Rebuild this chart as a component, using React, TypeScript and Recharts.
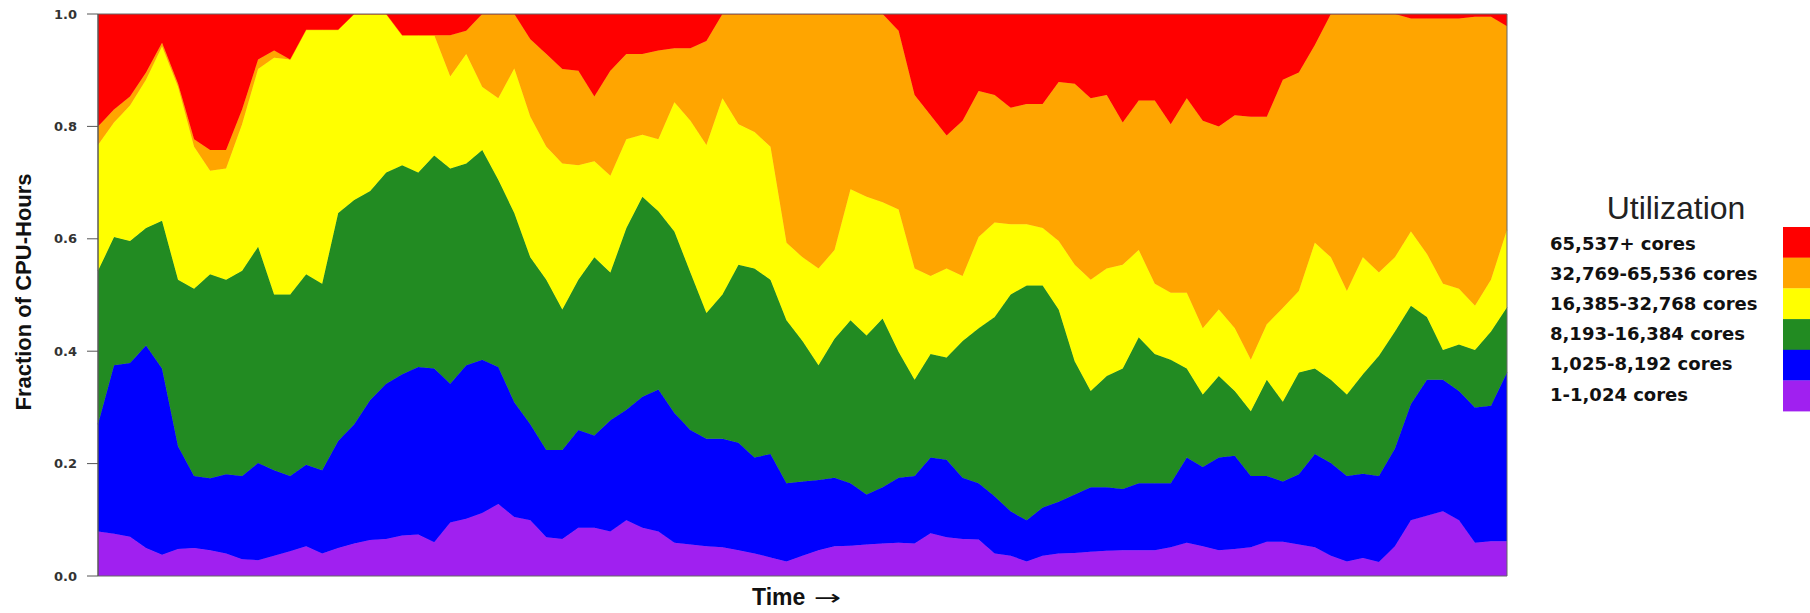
import React from "react";
import { AreaChart, Area, XAxis, YAxis, ReferenceArea } from "recharts";

// Fractions of CPU-hours per job-size class (89 time samples)
const cores1to1024 = [
  0.079, 0.075, 0.070, 0.050, 0.038, 0.048, 0.050, 0.046, 0.040, 0.030,
  0.028, 0.036, 0.044, 0.053, 0.040, 0.050, 0.058, 0.064, 0.066, 0.072,
  0.074, 0.060, 0.095, 0.102, 0.112, 0.128, 0.105, 0.099, 0.069, 0.066,
  0.086, 0.086, 0.079, 0.099, 0.086, 0.079, 0.059, 0.056, 0.053, 0.051,
  0.046, 0.040, 0.033, 0.026, 0.036, 0.046, 0.053, 0.054, 0.056, 0.058,
  0.059, 0.058, 0.076, 0.069, 0.066, 0.065, 0.040, 0.036, 0.026, 0.036,
  0.040, 0.041, 0.043, 0.045, 0.046, 0.046, 0.046, 0.051, 0.059, 0.053,
  0.046, 0.048, 0.051, 0.061, 0.061, 0.056, 0.051, 0.036, 0.026, 0.032,
  0.025, 0.053, 0.099, 0.107, 0.115, 0.099, 0.059, 0.062, 0.062,
];
const cores1025to8192 = [
  0.191, 0.300, 0.309, 0.360, 0.331, 0.183, 0.128, 0.128, 0.141, 0.148,
  0.173, 0.152, 0.134, 0.145, 0.148, 0.190, 0.212, 0.249, 0.276, 0.287,
  0.298, 0.309, 0.247, 0.273, 0.273, 0.244, 0.204, 0.171, 0.155, 0.158,
  0.174, 0.164, 0.198, 0.197, 0.233, 0.253, 0.231, 0.204, 0.191, 0.193,
  0.191, 0.171, 0.184, 0.139, 0.132, 0.125, 0.122, 0.111, 0.089, 0.100,
  0.116, 0.120, 0.135, 0.138, 0.109, 0.100, 0.102, 0.079, 0.073, 0.086,
  0.092, 0.104, 0.115, 0.113, 0.109, 0.119, 0.119, 0.114, 0.152, 0.141,
  0.165, 0.166, 0.127, 0.117, 0.107, 0.125, 0.166, 0.165, 0.152, 0.150,
  0.153, 0.174, 0.207, 0.242, 0.234, 0.230, 0.241, 0.241, 0.300,
];
const cores8193to16384 = [
  0.273, 0.228, 0.217, 0.209, 0.263, 0.296, 0.333, 0.363, 0.346, 0.365,
  0.385, 0.313, 0.323, 0.339, 0.332, 0.406, 0.399, 0.372, 0.376, 0.372,
  0.346, 0.379, 0.383, 0.359, 0.373, 0.333, 0.337, 0.297, 0.303, 0.250,
  0.267, 0.317, 0.263, 0.323, 0.356, 0.317, 0.323, 0.280, 0.224, 0.257,
  0.317, 0.336, 0.310, 0.290, 0.250, 0.204, 0.247, 0.290, 0.283, 0.300,
  0.224, 0.171, 0.184, 0.182, 0.243, 0.276, 0.319, 0.386, 0.418, 0.395,
  0.342, 0.237, 0.171, 0.198, 0.214, 0.260, 0.230, 0.220, 0.158, 0.129,
  0.145, 0.115, 0.115, 0.171, 0.142, 0.181, 0.152, 0.148, 0.145, 0.177,
  0.214, 0.208, 0.175, 0.112, 0.053, 0.083, 0.102, 0.132, 0.116,
];
const cores16385to32768 = [
  0.224, 0.204, 0.241, 0.264, 0.310, 0.343, 0.253, 0.184, 0.198, 0.261,
  0.316, 0.421, 0.418, 0.435, 0.452, 0.326, 0.331, 0.315, 0.282, 0.231,
  0.244, 0.214, 0.164, 0.195, 0.112, 0.145, 0.257, 0.250, 0.237, 0.260,
  0.204, 0.171, 0.172, 0.158, 0.110, 0.128, 0.230, 0.270, 0.299, 0.349,
  0.250, 0.243, 0.237, 0.138, 0.149, 0.172, 0.158, 0.233, 0.247, 0.207,
  0.253, 0.198, 0.139, 0.158, 0.116, 0.162, 0.168, 0.125, 0.109, 0.102,
  0.122, 0.172, 0.198, 0.191, 0.185, 0.155, 0.125, 0.119, 0.135, 0.118,
  0.118, 0.112, 0.092, 0.099, 0.167, 0.145, 0.224, 0.218, 0.184, 0.208,
  0.148, 0.132, 0.132, 0.112, 0.118, 0.099, 0.079, 0.092, 0.138,
];
const cores32769to65536 = [
  0.033, 0.023, 0.016, 0.013, 0.007, 0.006, 0.013, 0.037, 0.033, 0.026,
  0.017, 0.013, 0.0, 0.0, 0.0, 0.0, 0.0, 0.0, 0.0, 0.0,
  0.0, 0.0, 0.073, 0.041, 0.130, 0.150, 0.097, 0.138, 0.165, 0.168,
  0.168, 0.115, 0.187, 0.152, 0.144, 0.158, 0.096, 0.129, 0.185, 0.150,
  0.196, 0.210, 0.236, 0.407, 0.433, 0.453, 0.420, 0.312, 0.325, 0.335,
  0.318, 0.309, 0.286, 0.237, 0.276, 0.260, 0.227, 0.207, 0.214, 0.221,
  0.283, 0.322, 0.323, 0.309, 0.253, 0.266, 0.326, 0.300, 0.346, 0.369,
  0.326, 0.379, 0.432, 0.369, 0.406, 0.389, 0.352, 0.433, 0.493, 0.433,
  0.460, 0.433, 0.379, 0.419, 0.472, 0.481, 0.514, 0.468, 0.362,
];
const cores65537plus = [
  0.200, 0.170, 0.147, 0.104, 0.051, 0.124, 0.223, 0.242, 0.242, 0.170,
  0.081, 0.065, 0.081, 0.028, 0.028, 0.028, 0.0, 0.0, 0.0, 0.038,
  0.038, 0.038, 0.038, 0.030, 0.0, 0.0, 0.0, 0.045, 0.071, 0.098,
  0.101, 0.147, 0.101, 0.071, 0.071, 0.065, 0.061, 0.061, 0.048, 0.0,
  0.0, 0.0, 0.0, 0.0, 0.0, 0.0, 0.0, 0.0, 0.0, 0.0,
  0.030, 0.144, 0.180, 0.216, 0.190, 0.137, 0.144, 0.167, 0.160, 0.160,
  0.121, 0.124, 0.150, 0.144, 0.193, 0.154, 0.154, 0.196, 0.150, 0.190,
  0.200, 0.180, 0.183, 0.183, 0.117, 0.104, 0.055, 0.0, 0.0, 0.0,
  0.0, 0.0, 0.008, 0.008, 0.008, 0.008, 0.005, 0.005, 0.022,
];

const seriesLabels = [
  "1-1,024 cores",
  "1,025-8,192 cores",
  "8,193-16,384 cores",
  "16,385-32,768 cores",
  "32,769-65,536 cores",
  "65,537+ cores",
];
const seriesValues = [
  cores1to1024,
  cores1025to8192,
  cores8193to16384,
  cores16385to32768,
  cores32769to65536,
  cores65537plus,
];
const seriesColors = ["#A020F0", "#0000FF", "#228B22", "#FFFF00", "#FFA500", "#FF0000"];
const yTicks = [0, 0.2, 0.4, 0.6, 0.8, 1.0];

const data = cores1to1024.map((_, i) => {
  const row: Record<string, number> = { t: i };
  seriesValues.forEach((arr, s) => {
    row["s" + s] = arr[i];
  });
  return row;
});
const lastIndex = cores1to1024.length - 1;

export default function App() {
  const legendOrder = [5, 4, 3, 2, 1, 0];
  return (
    <div style={{ position: "absolute", left: 0, top: 0, width: 1810, height: 613, background: "#ffffff", overflow: "hidden" }}>
      <AreaChart
        width={1810}
        height={613}
        data={data}
        margin={{ top: 14, right: 303, bottom: 37, left: 0 }}
      >
        <XAxis type="number" dataKey="t" domain={[0, lastIndex]} hide />
        <YAxis
          type="number"
          domain={[0, 1]}
          ticks={yTicks}
          width={98}
          allowDataOverflow
          tickSize={11}
          tickMargin={10}
          tickFormatter={(v: number) => v.toFixed(1)}
          tick={{ fontFamily: "DejaVu Sans", fontWeight: "bold", fontSize: 13, fill: "#333" }}
          axisLine={{ stroke: "#555" }}
          tickLine={{ stroke: "#555" }}
        />
        {seriesValues.map((_, s) => (
          <Area
            key={s}
            type="linear"
            dataKey={"s" + s}
            stackId="cpu"
            fill={seriesColors[s]}
            fillOpacity={1}
            stroke={seriesColors[s]}
            strokeWidth={0.8}
            dot={false}
            activeDot={false}
            isAnimationActive={false}
          />
        ))}
        <ReferenceArea
          x1={0}
          x2={lastIndex}
          y1={0}
          y2={1}
          fill="none"
          fillOpacity={0}
          stroke="#666"
          strokeWidth={1}
          ifOverflow="visible"
        />
      </AreaChart>
      <svg
        width={1810}
        height={613}
        style={{ position: "absolute", left: 0, top: 0, pointerEvents: "none" }}
      >
        <text
          transform="translate(31,292) rotate(-90)"
          textAnchor="middle"
          fontFamily="Liberation Sans, Arial, sans-serif"
          fontWeight="bold"
          fontSize={22}
          fill="#111"
        >
          Fraction of CPU-Hours
        </text>
        <text x={752} y={605} fontFamily="Liberation Sans, Arial, sans-serif" fontWeight="bold" fontSize={23} fill="#111">
          Time
        </text>
        <text
          transform="translate(814,605) scale(1.55,1)"
          x={0}
          y={0}
          fontFamily="DejaVu Sans"
          fontSize={21}
          fill="#111"
        >
          →
        </text>
        <text x={1676} y={219} textAnchor="middle" fontFamily="Liberation Sans, Arial, sans-serif" fontSize={32} fill="#222">
          Utilization
        </text>
        {legendOrder.map((s, i) => (
          <g key={s}>
            <text
              x={1550}
              y={243 + 30.2 * i + 6.5}
              fontFamily="DejaVu Sans"
              fontWeight="bold"
              fontSize={18}
              fill="#111"
            >
              {seriesLabels[s]}
            </text>
            <rect x={1783} y={227 + 30.7 * i} width={30} height={30.9} fill={seriesColors[s]} />
          </g>
        ))}
      </svg>
    </div>
  );
}
